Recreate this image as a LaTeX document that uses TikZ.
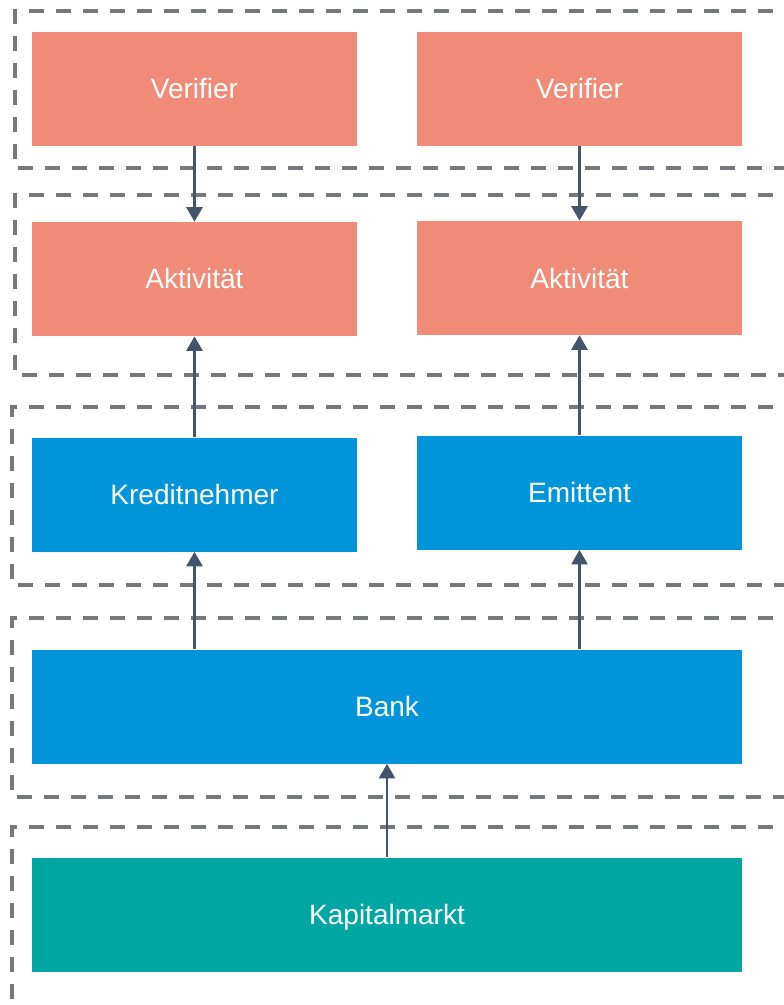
\documentclass[tikz,border=0pt]{standalone}
\usepackage{fontspec}
\setmainfont{Liberation Sans}
\usetikzlibrary{arrows.meta}
\definecolor{salmon}{HTML}{F08B77}
\definecolor{bblue}{HTML}{0095DA}
\definecolor{teal2}{HTML}{00A6A1}
\definecolor{arr}{HTML}{44546A}
\definecolor{dashc}{HTML}{76787C}
\tikzset{
  box/.style={rectangle, inner sep=0pt, minimum width=243.75pt, minimum height=85.5pt,
    text=white, font=\fontsize{21}{25}\selectfont, text height=15pt, text depth=0pt},
  widebox/.style={box, minimum width=532.5pt},
  lane/.style={draw=dashc, line width=2.6pt, dash pattern=on 11.25pt off 9pt},
  conn/.style={draw=arr, line width=2.2pt, -{Triangle[length=11pt,width=12pt]}}
}
\begin{document}
\begin{tikzpicture}[x=0.75pt,y=-0.75pt]
\useasboundingbox (0,0) rectangle (784,1005);
\clip (0,0) rectangle (784,1005);
\draw[lane] (800,11) -- (15,11) -- (15,168) -- (800,168);
\draw[lane] (800,195) -- (15,195) -- (15,375) -- (800,375);
\draw[lane] (800,407) -- (12,407) -- (12,585) -- (800,585);
\draw[lane] (800,618) -- (12,618) -- (12,797) -- (800,797);
\draw[lane] (800,827) -- (12,827) -- (12,1030);
\node[box, fill=salmon] (v1) at (194.5,89) {Verifier};
\node[box, fill=salmon] (v2) at (579.5,89) {Verifier};
\node[box, fill=salmon] (a1) at (194.5,279) {Aktivität};
\node[box, fill=salmon] (a2) at (579.5,278) {Aktivität};
\node[box, fill=bblue] (k) at (194.5,494.5) {Kreditnehmer};
\node[box, fill=bblue] (e) at (579.5,492.5) {Emittent};
\node[widebox, fill=bblue] (b) at (387,706.5) {Bank};
\node[widebox, fill=teal2] (m) at (387,914.5) {Kapitalmarkt};
\draw[conn] (v1.south) -- (a1.north);
\draw[conn] (v2.south) -- (a2.north);
\draw[conn] (k.north) -- (a1.south);
\draw[conn] (e.north) -- (a2.south);
\draw[conn] (b.north -| k.south) -- (k.south);
\draw[conn] (b.north -| e.south) -- (e.south);
\draw[conn] (m.north) -- (b.south);
\end{tikzpicture}
\end{document}
